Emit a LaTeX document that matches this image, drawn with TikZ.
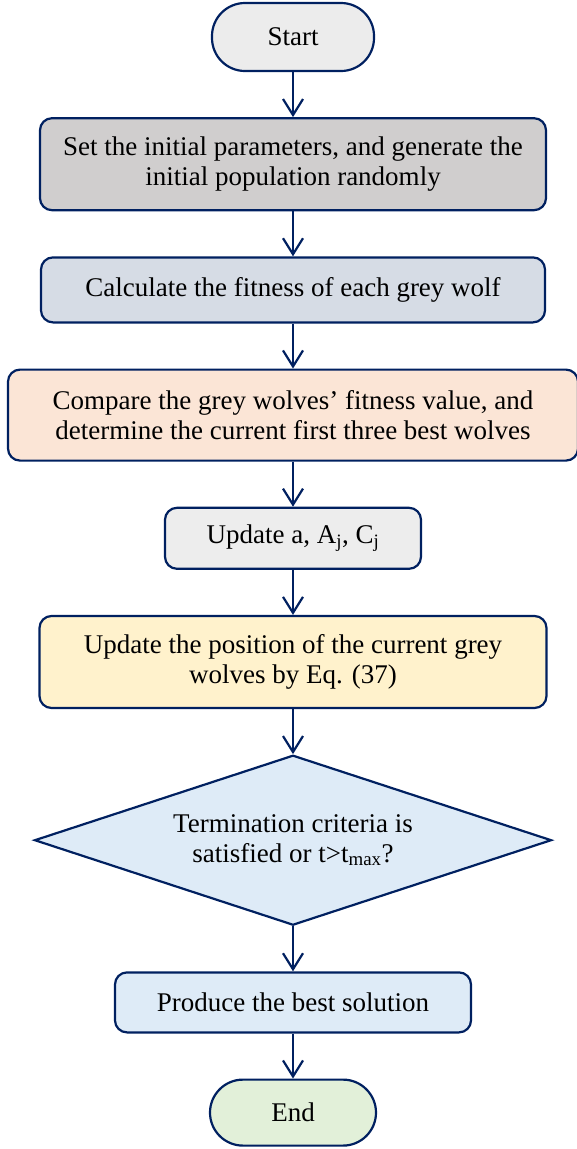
\documentclass[tikz,border=0pt]{standalone}
\usepackage{fontspec}
\setmainfont{Liberation Serif}
\usetikzlibrary{arrows.meta,positioning,shapes.geometric,chains}
\definecolor{linenavy}{RGB}{0,32,96}
\definecolor{fillstart}{RGB}{236,236,236}
\definecolor{fillgray}{RGB}{208,206,206}
\definecolor{fillslate}{RGB}{214,220,229}
\definecolor{fillpeach}{RGB}{251,229,214}
\definecolor{filllight}{RGB}{237,237,237}
\definecolor{fillyellow}{RGB}{255,242,204}
\definecolor{fillblue}{RGB}{222,235,247}
\definecolor{fillgreen}{RGB}{226,240,217}
\tikzstyle{flow}=[-{Straight Barb[length=16pt,width=20pt]},draw=linenavy,line width=2.2pt]
\tikzstyle{stepbox}=[draw=linenavy,line width=2.2pt,rounded corners=12pt,align=center,inner sep=0pt,font=\fontsize{27}{30}\selectfont]
\tikzstyle{terminal}=[stepbox,rounded corners=33pt,minimum height=68pt]
\tikzstyle{decision}=[stepbox,diamond,aspect=3.04,rounded corners=0pt,minimum width=517pt,minimum height=170pt]

\begin{document}
\begin{tikzpicture}[
    x=1pt, y=1pt,
    start chain=going below,
    node distance=45pt,
    stepbox/.append style={on chain, join=by {flow}},
]
    \useasboundingbox (0,0) rectangle (577,-1149);

    \node[terminal, fill=fillstart, minimum width=162pt, at={(293,-37)}] (start) {Start};
    \node[stepbox, fill=fillgray, minimum width=506pt, minimum height=92pt] (init) {Set the initial parameters, and generate the\\initial population randomly};
    \node[stepbox, fill=fillslate, minimum width=504pt, minimum height=65pt] (fitness) {Calculate the fitness of each grey wolf};
    \node[stepbox, fill=fillpeach, minimum width=570pt, minimum height=91pt] (compare) {Compare the grey wolves’ fitness value, and\\determine the current first three best wolves};
    \node[stepbox, fill=filllight, minimum width=256pt, minimum height=61pt] (coef) {Update a, A\textsubscript{j}, C\textsubscript{j}};
    \node[stepbox, fill=fillyellow, minimum width=507pt, minimum height=92pt] (position) {Update the position of the current grey\\wolves by Eq. (37)};
    \node[decision, fill=fillblue] (check) {Termination criteria is\\satisfied or t>t\textsubscript{max}?};
    \node[stepbox, fill=fillblue, minimum width=356pt, minimum height=60pt] (best) {Produce the best solution};
    \node[terminal, fill=fillgreen, minimum width=166pt, minimum height=66pt] (end) {End};
\end{tikzpicture}
\end{document}
